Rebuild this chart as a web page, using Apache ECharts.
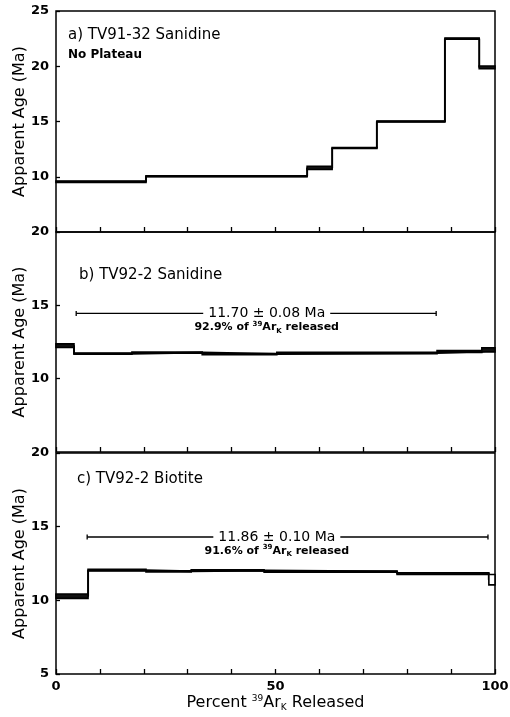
<!DOCTYPE html>
<html>
<head>
<meta charset="utf-8">
<script src="https://cdn.jsdelivr.net/npm/echarts@6/dist/echarts.min.js"></script>
<style>
html, body { margin: 0; padding: 0; background: #fff; }
#chart { width: 510px; height: 717px; }
</style>
</head>
<body>
<div id="chart"></div>
<script>
// step edges (% 39ArK released), apparent ages and half-heights (Ma)
const edgesA = [0, 20.5, 57.2, 62.9, 73.1, 88.6, 96.4, 100];
const agesA = [9.55, 10.05, 10.8, 12.6, 15.0, 22.5, 19.9];
const errsA = [0.06, 0.04, 0.15, 0.04, 0.04, 0.06, 0.12];

const edgesB = [0, 4.1, 17.3, 33.3, 50.3, 86.8, 97.0, 100];
const agesB = [12.25, 11.7, 11.78, 11.68, 11.75, 11.85, 11.97];
const errsB = [0.12, 0.04, 0.04, 0.04, 0.04, 0.06, 0.14];

const edgesC = [0, 7.3, 20.5, 30.8, 47.4, 77.7, 98.6, 100];
const agesC = [10.28, 12.05, 11.97, 12.03, 11.95, 11.81, 11.4];
const errsC = [0.15, 0.05, 0.04, 0.04, 0.04, 0.06, 0.35];

// plateau bars: [from %, to %, age level drawn at, label centre %]
const plateauB = [4.6, 86.6, 14.45, 48];
const plateauC = [7.1, 98.4, 14.3, 50.3];
const plateauAgeB = '11.70 ± 0.08 Ma';
const plateauAgeC = '11.86 ± 0.10 Ma';
const plateauPctB = '92.9%';
const plateauPctC = '91.6%';

const yMins = [5, 5, 5];
const yMaxs = [25, 20, 20];
const titles = ['a) TV91-32 Sanidine', 'b) TV92-2 Sanidine', 'c) TV92-2 Biotite'];
const subtitleA = 'No Plateau';

const FONT = 'DejaVu Sans';
const gridTops = [11, 232, 453];
const gridHeights = [221, 220, 221];

const panels = [
  { edges: edgesA, ages: agesA, errs: errsA, plateau: null },
  { edges: edgesB, ages: agesB, errs: errsB, plateau: plateauB, age: plateauAgeB, pct: plateauPctB },
  { edges: edgesC, ages: agesC, errs: errsC, plateau: plateauC, age: plateauAgeC, pct: plateauPctC }
];

function stepPoints(edges, ages) {
  const pts = ages.map((a, i) => [edges[i], a]);
  pts.push([edges[edges.length - 1], ages[ages.length - 1]]);
  return pts;
}

function renderBox(params, api) {
  const p0 = api.coord([api.value(0), api.value(2) + api.value(3)]);
  const p1 = api.coord([api.value(1), api.value(2) - api.value(3)]);
  const h = p1[1] - p0[1];
  return {
    type: 'rect',
    shape: { x: p0[0], y: p0[1], width: p1[0] - p0[0], height: h },
    // tall boxes stay open, thin ones read as a heavy line
    style: { fill: h > 5 ? '#fff' : '#111', stroke: '#000', lineWidth: 1.6 }
  };
}

function plateauRenderer(label, pct) {
  return function (params, api) {
    const a = api.coord([api.value(0), api.value(2)]);
    const b = api.coord([api.value(1), api.value(2)]);
    const c = api.coord([api.value(3), api.value(2)]);
    const ln = { stroke: '#000', lineWidth: 1.3 };
    return {
      type: 'group',
      children: [
        { type: 'line', shape: { x1: a[0], y1: a[1], x2: b[0], y2: b[1] }, style: ln },
        { type: 'line', shape: { x1: a[0], y1: a[1] - 2.5, x2: a[0], y2: a[1] + 2.5 }, style: ln },
        { type: 'line', shape: { x1: b[0], y1: b[1] - 2.5, x2: b[0], y2: b[1] + 2.5 }, style: ln },
        {
          type: 'text', x: c[0], y: c[1],
          style: {
            text: label, fontSize: 14, fontFamily: FONT, fill: '#000',
            align: 'center', verticalAlign: 'middle', backgroundColor: '#fff', padding: [0, 5]
          }
        },
        {
          type: 'text', x: c[0], y: c[1] + 14,
          style: {
            text: '{t|' + pct + ' of }{sup|39}{t|Ar}{sub|K}{t| released}',
            align: 'center', verticalAlign: 'middle',
            rich: {
              t: { fontSize: 11, fontWeight: 'bold', fontFamily: FONT, fill: '#000', lineHeight: 14 },
              sup: { fontSize: 7, fontWeight: 'bold', fontFamily: FONT, fill: '#000', verticalAlign: 'top', lineHeight: 14 },
              sub: { fontSize: 7, fontWeight: 'bold', fontFamily: FONT, fill: '#000', verticalAlign: 'bottom', lineHeight: 12 }
            }
          }
        }
      ]
    };
  };
}

const grids = [], xAxes = [], yAxes = [], series = [];
panels.forEach((p, i) => {
  grids.push({
    left: 56, width: 439, top: gridTops[i], height: gridHeights[i],
    show: true, borderColor: '#000', borderWidth: 1.5, backgroundColor: 'transparent',
    outerBoundsMode: 'none'
  });
  xAxes.push({
    type: 'value', gridIndex: i, min: 0, max: 100, interval: 10,
    axisLine: { show: false },
    splitLine: { show: false },
    axisTick: { inside: true, length: 5, lineStyle: { color: '#000', width: 1.3 } },
    axisLabel: {
      show: i === 2, margin: 6, color: '#000', fontSize: 13, fontWeight: 'bold', fontFamily: FONT,
      formatter: v => (v % 50 === 0 ? String(v) : '')
    },
    name: i === 2 ? 'Percent {sup|39}Ar{sub|K} Released' : '',
    nameLocation: 'middle', nameGap: 20, nameMoveOverlap: false,
    nameTextStyle: {
      fontSize: 16, fontFamily: FONT, color: '#000',
      rich: {
        sup: { fontSize: 9, fontFamily: FONT, color: '#000', verticalAlign: 'top', lineHeight: 18 },
        sub: { fontSize: 9, fontFamily: FONT, color: '#000', verticalAlign: 'bottom', lineHeight: 14 }
      }
    }
  });
  yAxes.push({
    type: 'value', gridIndex: i, min: yMins[i], max: yMaxs[i], interval: 5,
    axisLine: { show: false },
    splitLine: { show: false },
    axisTick: { inside: true, length: 4, lineStyle: { color: '#000', width: 1.3 } },
    axisLabel: {
      showMinLabel: i === 2, margin: 7, color: '#000', fontSize: 13, fontWeight: 'bold', fontFamily: FONT
    },
    name: 'Apparent Age (Ma)', nameLocation: 'middle', nameGap: 28, nameMoveOverlap: false,
    nameTextStyle: { fontSize: 16, fontFamily: FONT, color: '#000' }
  });
  series.push({
    type: 'line', xAxisIndex: i, yAxisIndex: i, step: 'end', symbol: 'none',
    lineStyle: { color: '#000', width: 2 }, z: 3, animation: false,
    data: stepPoints(p.edges, p.ages)
  });
  series.push({
    type: 'custom', xAxisIndex: i, yAxisIndex: i, renderItem: renderBox, z: 4,
    encode: { x: [0, 1], y: 2 }, animation: false,
    data: p.ages.map((a, k) => [p.edges[k], p.edges[k + 1], a, p.errs[k]])
  });
  if (p.plateau) {
    series.push({
      type: 'custom', xAxisIndex: i, yAxisIndex: i, renderItem: plateauRenderer(p.age, p.pct), z: 5,
      encode: { x: [0, 1], y: 2 }, animation: false,
      data: [p.plateau]
    });
  }
});

const titleY = [35, 275, 479];
const titleX = [68, 79, 77];
const graphic = titles.map((t, i) => ({
  type: 'text', x: titleX[i], y: titleY[i], z: 10,
  style: { text: t, fontSize: 15, fontFamily: FONT, fill: '#000', verticalAlign: 'middle' }
}));
graphic.push({
  type: 'text', x: 68, y: 55, z: 10,
  style: { text: subtitleA, fontSize: 12, fontWeight: 'bold', fontFamily: FONT, fill: '#000', verticalAlign: 'middle' }
});

const chart = echarts.init(document.getElementById('chart'));
chart.setOption({
  animation: false,
  backgroundColor: '#fff',
  grid: grids,
  xAxis: xAxes,
  yAxis: yAxes,
  series: series,
  graphic: graphic
});
</script>
</body>
</html>
